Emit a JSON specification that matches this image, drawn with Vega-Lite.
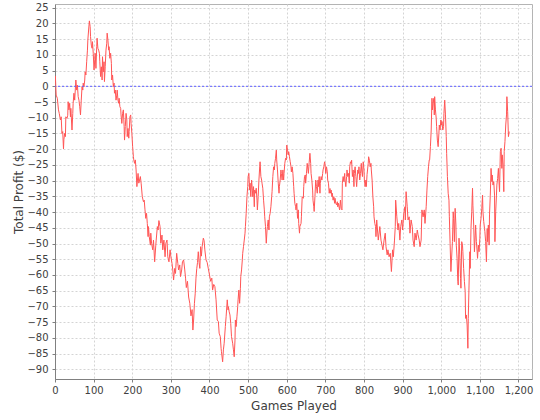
{
"$schema": "https://vega.github.io/schema/vega-lite/v6.json",
"width": 477, "height": 375,
"autosize": {"type": "none"},
"padding": {"left": 55, "top": 4, "right": 8, "bottom": 41},
"background": "white",
"config": {"view": {"stroke": "#b4b4b4", "strokeWidth": 1}, "font": "DejaVu Sans"},
"datasets": {
"walk": [
{"game":1,"profit":3.3},{"game":3,"profit":-2.8},{"game":6,"profit":-3.8},{"game":9,"profit":-7.5},{"game":11,"profit":-8.6},{"game":14,"profit":-10.7},{"game":16,"profit":-9.7},{"game":18,"profit":-15},{"game":20,"profit":-14.4},{"game":22,"profit":-19.9},{"game":23,"profit":-17},{"game":25,"profit":-15},{"game":27,"profit":-16},{"game":28,"profit":-9.7},{"game":31,"profit":-10.2},{"game":33,"profit":-9.2},{"game":34,"profit":-4.9},{"game":36,"profit":-7.5},{"game":38,"profit":-5.4},{"game":40,"profit":-9.7},{"game":41,"profit":-7},{"game":44,"profit":-13.9},{"game":46,"profit":-8.6},{"game":47,"profit":-5.4},{"game":49,"profit":-2.2},{"game":51,"profit":-4.4},{"game":53,"profit":-0.1},{"game":54,"profit":2},{"game":56,"profit":-1.2},{"game":58,"profit":0.4},{"game":60,"profit":-3.3},{"game":62,"profit":-4.4},{"game":64,"profit":-6.5},{"game":66,"profit":-9.1},{"game":68,"profit":-4.4},{"game":70,"profit":-0.1},{"game":72,"profit":-1.2},{"game":73,"profit":1},{"game":75,"profit":-0.1},{"game":77,"profit":2},{"game":78,"profit":4.6},{"game":80,"profit":3.6},{"game":82,"profit":7.8},{"game":84,"profit":11.5},{"game":85,"profit":14.7},{"game":87,"profit":17.9},{"game":89,"profit":20.8},{"game":91,"profit":19},{"game":92,"profit":15.8},{"game":94,"profit":13.1},{"game":96,"profit":12.1},{"game":97,"profit":14.2},{"game":99,"profit":10.5},{"game":101,"profit":5.2},{"game":103,"profit":8.4},{"game":104,"profit":10.5},{"game":106,"profit":5.7},{"game":108,"profit":12.6},{"game":109,"profit":15.3},{"game":111,"profit":12.1},{"game":113,"profit":11.5},{"game":115,"profit":10.5},{"game":116,"profit":7.8},{"game":118,"profit":3.1},{"game":120,"profit":6.2},{"game":122,"profit":2},{"game":123,"profit":9.4},{"game":125,"profit":4.6},{"game":127,"profit":7.8},{"game":128,"profit":1.5},{"game":130,"profit":6.2},{"game":132,"profit":11.5},{"game":134,"profit":13.7},{"game":135,"profit":16.9},{"game":137,"profit":14.7},{"game":139,"profit":11.5},{"game":140,"profit":12.6},{"game":142,"profit":8.9},{"game":144,"profit":10.5},{"game":146,"profit":7.3},{"game":147,"profit":2},{"game":149,"profit":3.6},{"game":151,"profit":-0.1},{"game":153,"profit":1},{"game":154,"profit":-2.2},{"game":156,"profit":-1.2},{"game":158,"profit":-4.4},{"game":160,"profit":-2.8},{"game":161,"profit":-1.2},{"game":163,"profit":-4.4},{"game":165,"profit":-5.4},{"game":166,"profit":-3.8},{"game":168,"profit":-6.5},{"game":170,"profit":-7},{"game":171,"profit":-9.1},{"game":173,"profit":-11.8},{"game":175,"profit":-8.6},{"game":177,"profit":-7.5},{"game":179,"profit":-12.8},{"game":180,"profit":-17.1},{"game":182,"profit":-12.8},{"game":184,"profit":-8.6},{"game":186,"profit":-10.7},{"game":187,"profit":-16},{"game":189,"profit":-13.4},{"game":191,"profit":-16.5},{"game":192,"profit":-14.4},{"game":194,"profit":-9.7},{"game":196,"profit":-9.1},{"game":197,"profit":-11.8},{"game":199,"profit":-15},{"game":201,"profit":-19.2},{"game":203,"profit":-22.4},{"game":204,"profit":-23.4},{"game":206,"profit":-24.5},{"game":208,"profit":-23.4},
{"game":210,"profit":-26.6},{"game":212,"profit":-31.9},{"game":215,"profit":-27.7},{"game":217,"profit":-30.8},{"game":221,"profit":-28.7},{"game":223,"profit":-30.8},{"game":226,"profit":-35.1},{"game":229,"profit":-36.7},{"game":231,"profit":-36.2},{"game":233,"profit":-39.3},{"game":235,"profit":-42},{"game":237,"profit":-40.4},{"game":239,"profit":-43.6},{"game":241,"profit":-47.8},{"game":242,"profit":-44.6},{"game":244,"profit":-47.8},{"game":247,"profit":-50.5},{"game":248,"profit":-46.7},{"game":250,"profit":-49.9},{"game":253,"profit":-52},{"game":255,"profit":-48.9},{"game":258,"profit":-55.8},{"game":261,"profit":-50.5},{"game":262,"profit":-48.9},{"game":265,"profit":-44.6},{"game":267,"profit":-45.7},{"game":269,"profit":-42.7},{"game":272,"profit":-44.6},{"game":274,"profit":-49.9},{"game":277,"profit":-47.3},{"game":279,"profit":-52},{"game":282,"profit":-48.9},{"game":285,"profit":-54.2},{"game":287,"profit":-49.9},{"game":290,"profit":-48.9},{"game":292,"profit":-54.2},{"game":295,"profit":-55.8},{"game":298,"profit":-52},{"game":300,"profit":-54.2},{"game":303,"profit":-56.3},{"game":305,"profit":-58.4},{"game":307,"profit":-61.6},{"game":310,"profit":-57.9},{"game":312,"profit":-59.5},{"game":315,"profit":-53.1},{"game":318,"profit":-56.3},{"game":320,"profit":-58.4},{"game":323,"profit":-56.8},{"game":325,"profit":-60.5},{"game":328,"profit":-58.4},{"game":330,"profit":-55.8},{"game":333,"profit":-55.2},{"game":336,"profit":-58.4},{"game":338,"profit":-61},
{"game":340,"profit":-64},{"game":343,"profit":-62},{"game":346,"profit":-67},{"game":349,"profit":-69},{"game":352,"profit":-73},{"game":355,"profit":-71},{"game":357,"profit":-77.5},{"game":359,"profit":-74},{"game":361,"profit":-69},{"game":363,"profit":-66},{"game":365,"profit":-61},{"game":367,"profit":-58},{"game":369,"profit":-56},{"game":371,"profit":-52.6},{"game":373,"profit":-56},{"game":375,"profit":-57.9},{"game":377,"profit":-51},{"game":379,"profit":-54},{"game":381,"profit":-51},{"game":384,"profit":-48.3},{"game":386,"profit":-49},{"game":388,"profit":-52},{"game":391,"profit":-55.2},{"game":394,"profit":-56},{"game":397,"profit":-58},{"game":400,"profit":-60},{"game":403,"profit":-62},{"game":406,"profit":-61},{"game":408,"profit":-64.8},{"game":411,"profit":-63},{"game":414,"profit":-63.7},
{"game":417,"profit":-67.9},{"game":420,"profit":-74.3},{"game":423,"profit":-74.8},{"game":425,"profit":-78.5},{"game":428,"profit":-79.6},{"game":430,"profit":-83.3},{"game":431,"profit":-84.4},{"game":434,"profit":-87.6},{"game":436,"profit":-83.8},{"game":438,"profit":-81.7},{"game":441,"profit":-76.4},{"game":443,"profit":-73.3},{"game":446,"profit":-67.9},{"game":448,"profit":-71.1},{"game":449,"profit":-70.1},{"game":451,"profit":-71.7},{"game":453,"profit":-72.7},{"game":455,"profit":-75.4},{"game":457,"profit":-79.6},{"game":460,"profit":-81.7},{"game":462,"profit":-83.8},{"game":464,"profit":-86},{"game":466,"profit":-80.7},{"game":467,"profit":-74.3},{"game":469,"profit":-76.4},{"game":471,"profit":-73.3},{"game":473,"profit":-70.1},{"game":474,"profit":-67.9},{"game":476,"profit":-64.8},{"game":478,"profit":-69},{"game":480,"profit":-64.2},{"game":481,"profit":-60.5},{"game":483,"profit":-58.4},{"game":485,"profit":-55.2},{"game":486,"profit":-53.1},{"game":488,"profit":-51},{"game":490,"profit":-48.9},{"game":492,"profit":-46.7},{"game":493,"profit":-44.6},{"game":495,"profit":-40.4},{"game":497,"profit":-35.1},{"game":499,"profit":-31.9},{"game":500,"profit":-28.7},{"game":502,"profit":-27.7},{"game":504,"profit":-33},{"game":505,"profit":-30.8},{"game":507,"profit":-35.1},{"game":509,"profit":-29.8},{"game":511,"profit":-33},{"game":512,"profit":-35.1},{"game":514,"profit":-31.9},{"game":516,"profit":-38.3},{"game":517,"profit":-33},{"game":519,"profit":-34},{"game":521,"profit":-32.4},{"game":523,"profit":-36.2},{"game":524,"profit":-39.3},{"game":526,"profit":-35.1},{"game":528,"profit":-29.8},{"game":530,"profit":-25.6},{"game":531,"profit":-24},{"game":533,"profit":-28.7},{"game":535,"profit":-29.8},{"game":536,"profit":-30.8},{"game":538,"profit":-32.4},{"game":540,"profit":-36.2},{"game":542,"profit":-39.3},{"game":543,"profit":-41.5},{"game":545,"profit":-44.6},{"game":547,"profit":-49.9},{"game":549,"profit":-45.7},{"game":550,"profit":-44.6},{"game":552,"profit":-42.5},{"game":554,"profit":-45.7},{"game":555,"profit":-41.5},{"game":557,"profit":-40.4},{"game":559,"profit":-38.3},{"game":561,"profit":-35.1},{"game":562,"profit":-33.5},{"game":564,"profit":-28.7},{"game":566,"profit":-25.6},{"game":568,"profit":-26.6},{"game":569,"profit":-24.5},{"game":571,"profit":-22.9},{"game":573,"profit":-20.3},{"game":574,"profit":-23.4},{"game":576,"profit":-26.6},{"game":578,"profit":-30.8},{"game":580,"profit":-34},{"game":581,"profit":-31.9},{"game":583,"profit":-29.8},{"game":585,"profit":-26.6},{"game":586,"profit":-27.7},{"game":588,"profit":-29.8},{"game":590,"profit":-26.6},{"game":592,"profit":-29.8},{"game":593,"profit":-27.7},{"game":595,"profit":-24.5},{"game":597,"profit":-22.9},{"game":599,"profit":-23.4},{"game":600,"profit":-18.7},{"game":602,"profit":-20.3},{"game":604,"profit":-21.8},{"game":605,"profit":-20.8},{"game":607,"profit":-22.4},{"game":609,"profit":-24},{"game":611,"profit":-25.6},{"game":612,"profit":-27.2},{"game":614,"profit":-25.6},{"game":616,"profit":-27.7},{"game":618,"profit":-31.9},{"game":619,"profit":-34},{"game":621,"profit":-37.2},{"game":623,"profit":-38.3},{"game":624,"profit":-39.3},{"game":626,"profit":-37.2},{"game":628,"profit":-42},{"game":630,"profit":-39.3},{"game":631,"profit":-43.6},{"game":633,"profit":-46.7},
{"game":634,"profit":-44.6},{"game":637,"profit":-43.6},{"game":638,"profit":-41.5},{"game":640,"profit":-35.1},{"game":643,"profit":-35.6},{"game":644,"profit":-31.9},{"game":646,"profit":-28.7},{"game":648,"profit":-28.2},{"game":649,"profit":-30.8},{"game":651,"profit":-27.7},{"game":653,"profit":-24.5},{"game":655,"profit":-26.6},{"game":656,"profit":-27.7},{"game":658,"profit":-24.3},{"game":660,"profit":-21.3},{"game":662,"profit":-24.5},{"game":663,"profit":-27.7},{"game":665,"profit":-29.8},{"game":667,"profit":-33},{"game":668,"profit":-36.2},{"game":670,"profit":-38.3},{"game":671,"profit":-39.8},{"game":673,"profit":-35.1},{"game":675,"profit":-29.8},{"game":677,"profit":-31.9},{"game":679,"profit":-34},{"game":681,"profit":-29.8},{"game":682,"profit":-31.9},{"game":684,"profit":-28.7},{"game":686,"profit":-34},{"game":687,"profit":-30.8},{"game":689,"profit":-28.7},{"game":691,"profit":-29.8},{"game":693,"profit":-27.7},{"game":694,"profit":-26.6},{"game":696,"profit":-25.6},{"game":698,"profit":-24},{"game":699,"profit":-24.5},{"game":701,"profit":-27.7},{"game":703,"profit":-25.6},{"game":705,"profit":-27.2},{"game":706,"profit":-29.8},{"game":708,"profit":-30.8},{"game":710,"profit":-34},{"game":712,"profit":-32.5},{"game":713,"profit":-34},{"game":715,"profit":-33},{"game":717,"profit":-35.1},{"game":718,"profit":-34},{"game":720,"profit":-36.2},{"game":722,"profit":-35.1},{"game":724,"profit":-37.2},{"game":725,"profit":-35.6},{"game":727,"profit":-37.2},{"game":729,"profit":-37.7},{"game":731,"profit":-36.7},{"game":732,"profit":-38.3},{"game":734,"profit":-37.2},{"game":736,"profit":-38.8},{"game":737,"profit":-39.3},{"game":739,"profit":-36.2},{"game":741,"profit":-38.8},{"game":743,"profit":-39.3},{"game":744,"profit":-30.8},{"game":746,"profit":-28.7},{"game":748,"profit":-30.3},{"game":750,"profit":-27.7},{"game":751,"profit":-29.8},{"game":753,"profit":-31.9},{"game":755,"profit":-28.7},{"game":756,"profit":-26.6},{"game":758,"profit":-28.7},{"game":760,"profit":-27.7},{"game":762,"profit":-30.8},{"game":763,"profit":-25.6},{"game":765,"profit":-24},{"game":767,"profit":-24.5},{"game":768,"profit":-23.5},{"game":770,"profit":-28.7},{"game":772,"profit":-26.6},{"game":774,"profit":-31.9},{"game":775,"profit":-27.7},{"game":777,"profit":-25.6},{"game":779,"profit":-28.7},{"game":781,"profit":-31.9},{"game":782,"profit":-29.8},{"game":784,"profit":-26.6},{"game":786,"profit":-27.7},{"game":787,"profit":-25.6},{"game":789,"profit":-29.8},{"game":791,"profit":-27.7},{"game":793,"profit":-24.5},{"game":794,"profit":-26.6},{"game":796,"profit":-28.7},{"game":798,"profit":-24},{"game":800,"profit":-26.6},{"game":801,"profit":-29.8},{"game":803,"profit":-31.9},{"game":805,"profit":-29.8},{"game":806,"profit":-31.9},{"game":808,"profit":-28},{"game":811,"profit":-24.5},{"game":812,"profit":-22.4},{"game":814,"profit":-23.5},{"game":816,"profit":-25.6},{"game":818,"profit":-24.5},{"game":819,"profit":-26.6},{"game":821,"profit":-29.8},{"game":823,"profit":-35.1},{"game":825,"profit":-38.3},{"game":826,"profit":-41.5},{"game":828,"profit":-43.6},{"game":830,"profit":-44.6},
{"game":831,"profit":-47.8},{"game":833,"profit":-42.5},{"game":837,"profit":-48.9},{"game":841,"profit":-44.6},{"game":844,"profit":-48.9},{"game":849,"profit":-52},{"game":852,"profit":-48.9},{"game":855,"profit":-46.7},{"game":857,"profit":-51},{"game":860,"profit":-53.6},{"game":862,"profit":-52},{"game":865,"profit":-54.2},{"game":868,"profit":-53.1},{"game":871,"profit":-58.9},{"game":874,"profit":-52},{"game":876,"profit":-54.2},{"game":879,"profit":-48.9},{"game":881,"profit":-44.6},{"game":882,"profit":-36.2},{"game":885,"profit":-41.5},{"game":888,"profit":-45.7},{"game":890,"profit":-43.6},{"game":893,"profit":-48.9},{"game":895,"profit":-44.6},{"game":898,"profit":-42.5},{"game":900,"profit":-45.7},{"game":903,"profit":-40.4},{"game":906,"profit":-38.3},{"game":907,"profit":-42.5},{"game":909,"profit":-33.5},{"game":912,"profit":-38.3},{"game":914,"profit":-42.5},{"game":917,"profit":-41.5},{"game":919,"profit":-46.7},{"game":922,"profit":-42.5},{"game":925,"profit":-44.6},{"game":927,"profit":-48.9},{"game":930,"profit":-51},{"game":932,"profit":-46.7},{"game":935,"profit":-48.9},{"game":938,"profit":-45.7},{"game":940,"profit":-47.2},{"game":943,"profit":-48.9},{"game":945,"profit":-51},{"game":948,"profit":-48.9},{"game":950,"profit":-39.3},{"game":953,"profit":-41.5},{"game":956,"profit":-39.3},{"game":958,"profit":-43.6},{"game":961,"profit":-38.3},{"game":963,"profit":-33},{"game":965,"profit":-28.7},{"game":967,"profit":-25.6},{"game":969,"profit":-23.4},
{"game":970,"profit":-23.4},{"game":972,"profit":-19.2},{"game":974,"profit":-13.9},{"game":976,"profit":-3.8},{"game":977,"profit":-7.5},{"game":979,"profit":-5.4},{"game":981,"profit":-3.8},{"game":982,"profit":-9.1},{"game":983,"profit":-3.3},{"game":985,"profit":-7.5},{"game":987,"profit":-10.2},{"game":988,"profit":-12.8},{"game":990,"profit":-17.1},{"game":992,"profit":-19.2},{"game":994,"profit":-14.9},{"game":995,"profit":-12.3},{"game":997,"profit":-13.9},{"game":999,"profit":-10.7},{"game":1001,"profit":-12.3},{"game":1002,"profit":-11.2},{"game":1004,"profit":-13.9},{"game":1006,"profit":-12.8},{"game":1007,"profit":-8.6},{"game":1009,"profit":-4.4},{"game":1011,"profit":-9.1},{"game":1013,"profit":-16},{"game":1014,"profit":-21.3},{"game":1016,"profit":-28.7},{"game":1018,"profit":-34},{"game":1020,"profit":-36.2},{"game":1021,"profit":-41.5},
{"game":1023,"profit":-50},{"game":1025,"profit":-58.9},{"game":1029,"profit":-49.4},{"game":1031,"profit":-39.9},{"game":1032,"profit":-42},{"game":1034,"profit":-49.4},{"game":1036,"profit":-38.8},{"game":1038,"profit":-44.1},{"game":1039,"profit":-50.5},{"game":1041,"profit":-54.7},{"game":1043,"profit":-62.1},{"game":1044,"profit":-63.2},{"game":1046,"profit":-48.3},{"game":1048,"profit":-53.6},{"game":1050,"profit":-61.1},{"game":1051,"profit":-64.2},{"game":1053,"profit":-49.4},{"game":1055,"profit":-50.5},{"game":1056,"profit":-52.6},{"game":1058,"profit":-57.9},{"game":1060,"profit":-62.1},{"game":1062,"profit":-65.3},{"game":1063,"profit":-73.8},{"game":1065,"profit":-72.7},{"game":1067,"profit":-75.9},{"game":1069,"profit":-83.3},{"game":1070,"profit":-73.8},{"game":1072,"profit":-63.2},{"game":1074,"profit":-52.6},{"game":1075,"profit":-57.9},{"game":1077,"profit":-45.2},{"game":1079,"profit":-39.9},{"game":1081,"profit":-32.4},{"game":1082,"profit":-37.8},{"game":1084,"profit":-44.1},{"game":1086,"profit":-52.6},{"game":1088,"profit":-47.3},{"game":1089,"profit":-44.1},{"game":1091,"profit":-49.4},{"game":1093,"profit":-52.6},{"game":1094,"profit":-54.7},{"game":1096,"profit":-50.5},{"game":1098,"profit":-52.6},{"game":1100,"profit":-48.3},{"game":1101,"profit":-44.1},{"game":1103,"profit":-42},{"game":1105,"profit":-38.8},{"game":1107,"profit":-34.6},{"game":1108,"profit":-39.9},{"game":1110,"profit":-43},{"game":1112,"profit":-45.2},{"game":1113,"profit":-46.2},{"game":1115,"profit":-49.4},{"game":1117,"profit":-55.8},{"game":1119,"profit":-45.2},{"game":1120,"profit":-49.4},{"game":1122,"profit":-44.1},{"game":1124,"profit":-50.5},{"game":1125,"profit":-40.9},{"game":1127,"profit":-34.6},{"game":1129,"profit":-26.1},{"game":1131,"profit":-30.3},{"game":1132,"profit":-28.2},{"game":1134,"profit":-31.4},{"game":1136,"profit":-30.3},{"game":1138,"profit":-34.6},{"game":1139,"profit":-49.4},{"game":1141,"profit":-39.9},{"game":1143,"profit":-34.6},{"game":1144,"profit":-31.4},{"game":1146,"profit":-29.3},{"game":1148,"profit":-26.1},{"game":1150,"profit":-31.4},{"game":1151,"profit":-33.5},{"game":1153,"profit":-20.8},{"game":1155,"profit":-19.7},{"game":1157,"profit":-26.1},{"game":1158,"profit":-21.8},{"game":1160,"profit":-25},{"game":1162,"profit":-33.5},{"game":1163,"profit":-20.8},{"game":1165,"profit":-17.6},{"game":1167,"profit":-12.3},{"game":1169,"profit":-9.1},{"game":1170,"profit":-3.3},{"game":1172,"profit":-8.1},{"game":1174,"profit":-16},{"game":1176,"profit":-14.4}
],
"marker": [{"level": 0}]
},
"layer": [
{
"data": {"name": "walk"},
"mark": {"type": "line", "color": "#ff5555", "strokeWidth": 1, "clip": true},
"encoding": {
"x": {"field": "game", "type": "quantitative", "scale": {"domain": [0, 1235], "nice": false, "zero": false},
"axis": {"title": "Games Played", "values": [0,100,200,300,400,500,600,700,800,900,1000,1100,1200], "format": ",d",
"labelFlush": false, "labelOverlap": false,
"grid": true, "gridColor": "#d4d4d4", "gridDash": [2,2], "gridWidth": 1,
"domainColor": "#808080", "tickColor": "#808080", "tickSize": 3, "labelPadding": 3,
"labelFont": "DejaVu Sans", "labelFontSize": 10, "labelColor": "#404040",
"titleFont": "DejaVu Sans", "titleFontSize": 12, "titleFontWeight": "normal", "titleColor": "#404040", "titlePadding": 5}},
"y": {"field": "profit", "type": "quantitative", "scale": {"domain": [-93.07, 26.17], "nice": false, "zero": false},
"axis": {"title": "Total Profit ($)", "values": [-90,-85,-80,-75,-70,-65,-60,-55,-50,-45,-40,-35,-30,-25,-20,-15,-10,-5,0,5,10,15,20,25], "format": "d",
"labelFlush": false, "labelOverlap": false,
"grid": true, "gridColor": "#d4d4d4", "gridDash": [2,2], "gridWidth": 1,
"domainColor": "#808080", "tickColor": "#808080", "tickSize": 3, "labelPadding": 4,
"labelFont": "DejaVu Sans", "labelFontSize": 10, "labelColor": "#404040",
"titleFont": "DejaVu Sans", "titleFontSize": 12, "titleFontWeight": "normal", "titleColor": "#404040", "titlePadding": 1}}
}
},
{
"data": {"name": "marker"},
"mark": {"type": "rule", "color": "#5c5cff", "strokeDash": [2,2], "strokeWidth": 1},
"encoding": {"y": {"field": "level", "type": "quantitative",
"axis": {"title": "Total Profit ($)", "values": [-90,-85,-80,-75,-70,-65,-60,-55,-50,-45,-40,-35,-30,-25,-20,-15,-10,-5,0,5,10,15,20,25], "format": "d",
"labelFlush": false, "labelOverlap": false,
"grid": true, "gridColor": "#d4d4d4", "gridDash": [2,2], "gridWidth": 1,
"domainColor": "#808080", "tickColor": "#808080", "tickSize": 3, "labelPadding": 4,
"labelFont": "DejaVu Sans", "labelFontSize": 10, "labelColor": "#404040",
"titleFont": "DejaVu Sans", "titleFontSize": 12, "titleFontWeight": "normal", "titleColor": "#404040", "titlePadding": 1}}}
}
]
}
